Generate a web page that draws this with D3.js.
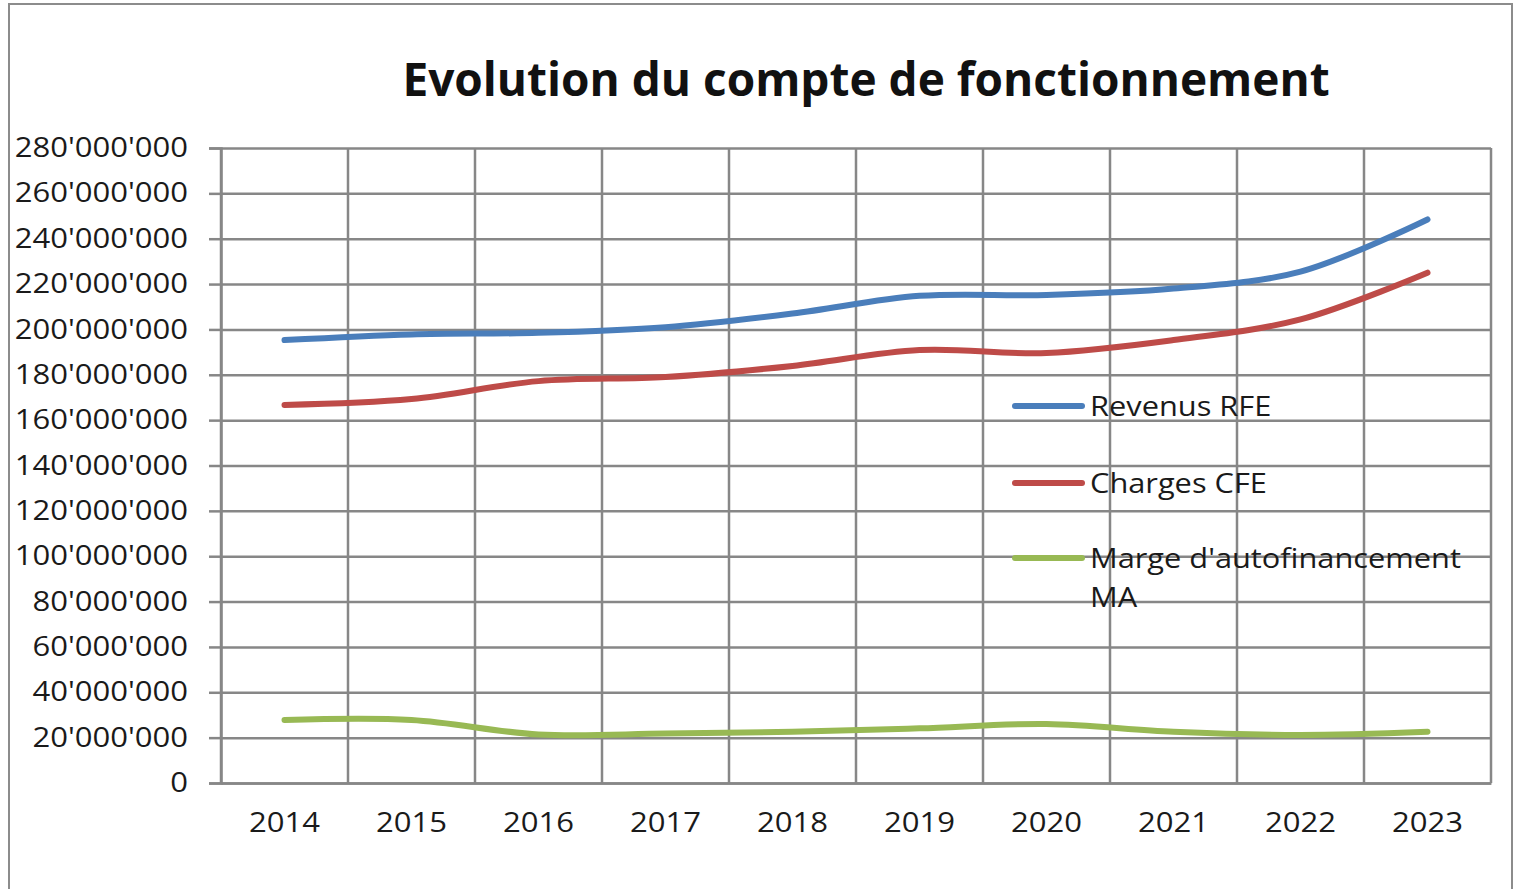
<!DOCTYPE html>
<html>
<head>
<meta charset="utf-8">
<script src="https://cdn.jsdelivr.net/npm/d3@7"></script>
<style>
  body { margin: 0; background: #fff; }
  svg { display: block; }
</style>
</head>
<body>
<svg id="chart"></svg>
<script>
// Chart data
var years = ["2014", "2015", "2016", "2017", "2018", "2019", "2020", "2021", "2022", "2023"];
var revenus = [195.3, 197.8, 198.5, 201.0, 207.0, 214.8, 215.2, 218.0, 225.5, 248.5];
var charges = [166.7, 169.3, 177.2, 179.0, 183.9, 190.9, 189.6, 195.3, 204.4, 225.0];
var marge = [27.8, 27.8, 21.4, 21.8, 22.6, 24.1, 26.0, 22.6, 21.2, 22.6];
var seriesNames = ["Revenus RFE", "Charges CFE", ["Marge d'autofinancement", "MA"]];
var seriesColors = ["#4a7ebb", "#be4b48", "#98b954"];
var yTicks = d3.range(0, 280000001, 20000000);

var svgWidth = 1515;
var svgHeight = 889;
var margin = { top: 148, right: 24, bottom: 106, left: 221 };
var chartWidth = svgWidth - margin.left - margin.right;
var chartHeight = svgHeight - margin.top - margin.bottom;
var stretch = 1.15; // the original text is a bit wider than Open Sans

var svg = d3.select("#chart")
  .attr("width", svgWidth)
  .attr("height", svgHeight)
  .style("font-family", "'Open Sans', sans-serif");

// outer frame
svg.append("rect")
  .attr("x", 9).attr("y", 4)
  .attr("width", 1503).attr("height", 900)
  .attr("fill", "none")
  .attr("stroke", "#8c8c8c")
  .attr("stroke-width", 2);

svg.append("text")
  .attr("x", 866)
  .attr("y", 96)
  .attr("text-anchor", "middle")
  .style("font-size", "46px")
  .style("font-weight", "bold")
  .attr("fill", "#111")
  .text("Evolution du compte de fonctionnement");

var chart = svg.append("g")
  .attr("transform", "translate(" + margin.left + "," + margin.top + ")");

var xScale = d3.scaleBand()
  .domain(years)
  .range([0, chartWidth]);

var yScale = d3.scaleLinear()
  .domain([0, 280000000])
  .range([chartHeight, 0]);

// horizontal gridlines
chart.append("g")
  .attr("class", "grid")
  .call(d3.axisLeft(yScale).tickValues(yTicks).tickSize(-chartWidth).tickFormat(""))
  .call(g => g.select(".domain").remove())
  .selectAll("line")
  .attr("stroke", "#878787")
  .attr("stroke-width", 2.5);

// vertical gridlines at category borders
chart.selectAll(".vgrid")
  .data(years.concat(["end"]))
  .enter()
  .append("line")
  .attr("class", "vgrid")
  .attr("x1", function (d, i) { return i < years.length ? xScale(d) : chartWidth; })
  .attr("x2", function (d, i) { return i < years.length ? xScale(d) : chartWidth; })
  .attr("y1", 0)
  .attr("y2", chartHeight)
  .attr("stroke", "#878787")
  .attr("stroke-width", 2.5);

// y axis
var yAxis = chart.append("g")
  .attr("class", "axis")
  .call(d3.axisLeft(yScale)
    .tickValues(yTicks)
    .tickSize(12)
    .tickPadding(21)
    .tickFormat(function (d) { return d3.format(",")(d).replace(/,/g, "'"); }));
yAxis.select(".domain").attr("stroke", "#878787").attr("stroke-width", 2.5);
yAxis.selectAll("line").attr("stroke", "#878787").attr("stroke-width", 2.5);
yAxis.selectAll("text")
  .style("font-size", "27px")
  .style("font-family", "'Open Sans', sans-serif")
  .attr("fill", "#1a1a1a")
  .attr("x", -33 / stretch)
  .attr("transform", "scale(" + stretch + ",1)");

// x axis
var xAxis = chart.append("g")
  .attr("class", "axis")
  .attr("transform", "translate(0," + chartHeight + ")")
  .call(d3.axisBottom(xScale).tickSize(0).tickPadding(30));
xAxis.select(".domain").attr("stroke", "#878787").attr("stroke-width", 2.5);
xAxis.selectAll("text")
  .style("font-size", "27px")
  .style("font-family", "'Open Sans', sans-serif")
  .attr("fill", "#1a1a1a")
  .attr("transform", "scale(" + stretch + ",1)");

// lines
var line = d3.line()
  .x(function (d, i) { return xScale(years[i]) + xScale.bandwidth() / 2; })
  .y(function (d) { return yScale(d * 1000000); })
  .curve(d3.curveCatmullRom.alpha(0.5));

[revenus, charges, marge].forEach(function (values, i) {
  chart.append("path")
    .datum(values)
    .attr("fill", "none")
    .attr("stroke", seriesColors[i])
    .attr("stroke-width", 6)
    .attr("stroke-linecap", "round")
    .attr("d", line);
});

// legend
var legendY = [406, 483, 558];
var legend = svg.append("g");
seriesNames.forEach(function (name, i) {
  legend.append("line")
    .attr("x1", 1015).attr("x2", 1082)
    .attr("y1", legendY[i]).attr("y2", legendY[i])
    .attr("stroke", seriesColors[i])
    .attr("stroke-width", 6)
    .attr("stroke-linecap", "round");
  var lines = Array.isArray(name) ? name : [name];
  var t = legend.append("text")
    .attr("transform", "translate(1090," + (legendY[i] + 10) + ") scale(" + (stretch - 0.01) + ",1)")
    .style("font-size", "27px")
    .attr("fill", "#1a1a1a");
  lines.forEach(function (s, j) {
    t.append("tspan")
      .attr("x", 0)
      .attr("dy", j === 0 ? 0 : 39)
      .text(s);
  });
});
</script>
</body>
</html>
